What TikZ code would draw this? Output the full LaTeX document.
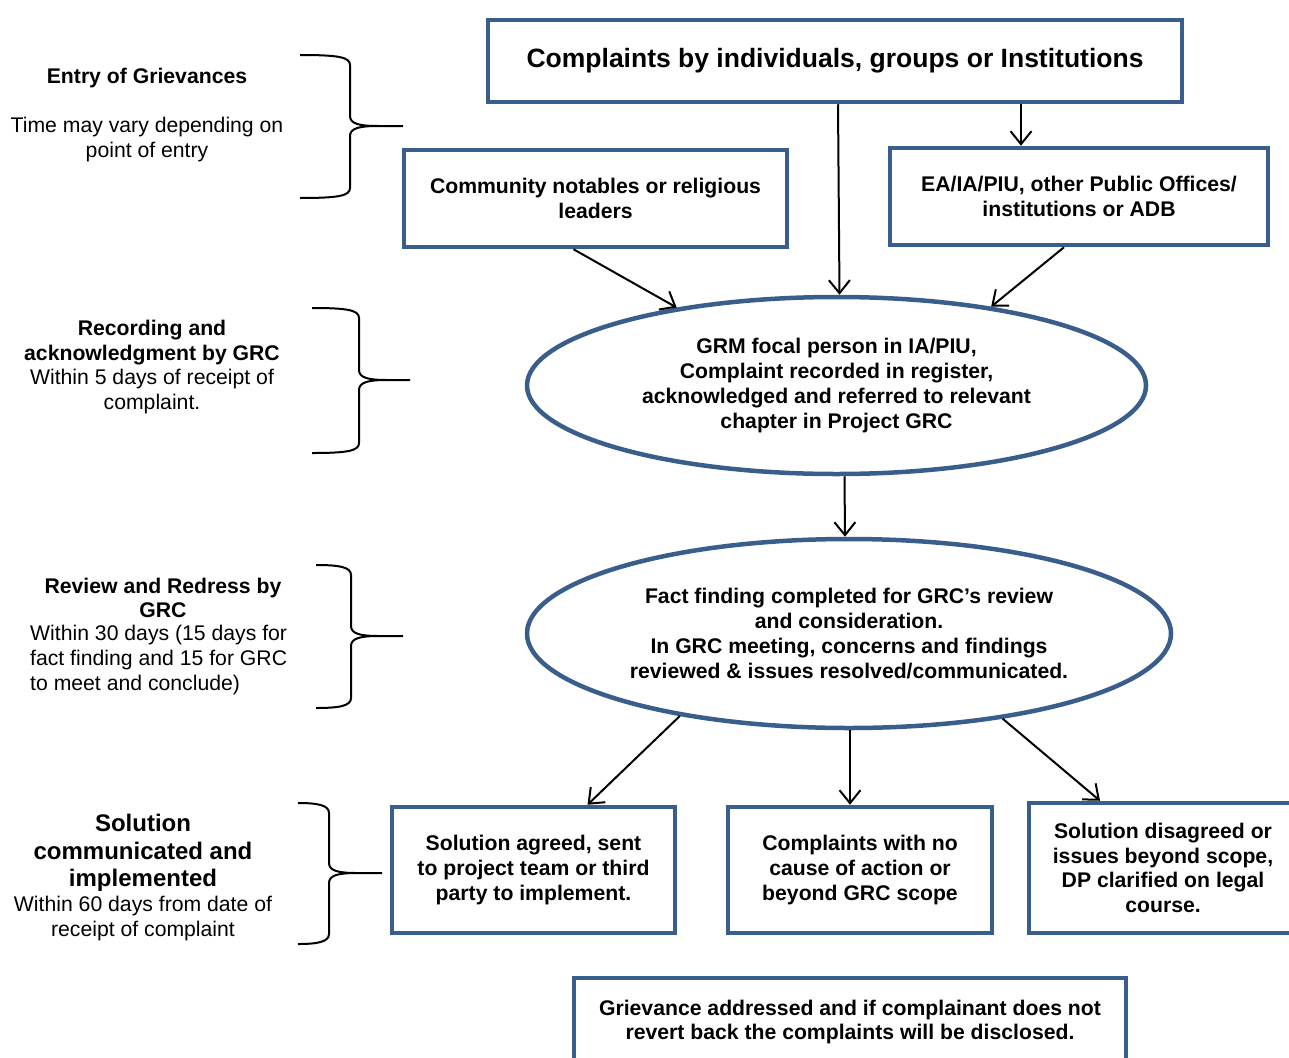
\documentclass[tikz,border=0pt]{standalone}
\usepackage{fontspec}
\setmainfont{Liberation Sans}
\usetikzlibrary{positioning, arrows.meta, shapes.geometric}
\definecolor{grmblue}{HTML}{3A5E8C}
\tikzset{
stepbox/.style={shape=rectangle, draw=grmblue, line width=4.5pt, inner sep=0, align=center, font=\bfseries\fontsize{21.2}{24.7}\selectfont}, stage/.style={stepbox, shape=ellipse}, note/.style={align=center, inner sep=0, font=\fontsize{21.2}{24.7}\selectfont}, flow/.style={-{Straight Barb[length=13pt, width=21pt]}, line width=2pt}, bracket/.style={line width=2pt}}

\begin{document}
\begin{tikzpicture}[x=1pt, y=-1pt]
\useasboundingbox (0,0) rectangle (1289,1057);
\node [stepbox, minimum width=694, minimum height=82, font=\bfseries\fontsize{26.5}{30}\selectfont] (complaints) at (835,61) {Complaints by individuals, groups or Institutions};
\node [stepbox, minimum width=383, minimum height=97] (notables) at (595.5,198.5) {Community notables or religious\\leaders};
\node [stepbox, minimum width=378, minimum height=97] (offices) at (1079,196.5) {EA/IA/PIU, other Public Offices/\\institutions or ADB};
\node [stage, minimum width=619, minimum height=177] (focal) at (836.5,385.5) {GRM focal person in IA/PIU,\\Complaint recorded in register,\\acknowledged and referred to relevant\\chapter in Project GRC};
\node [stage, minimum width=644, minimum height=189] (review) at (849,633.5) {Fact finding completed for GRC’s review\\and consideration.\\In GRC meeting, concerns and findings\\reviewed \& issues resolved/communicated.};
\node [stepbox, minimum width=283, minimum height=126] (agreed) at (533.5,870) {Solution agreed, sent\\to project team or third\\party to implement.};
\node [stepbox, minimum width=264, minimum height=126] (nocause) at (860,870) {Complaints with no\\cause of action or\\beyond GRC scope};
\node [stepbox, minimum width=268, minimum height=130] (disagreed) at (1163,868) {Solution disagreed or\\issues beyond scope,\\DP clarified on legal\\course.};
\node [stepbox, minimum width=552, minimum height=88] (addressed) at (850,1022) {Grievance addressed and if complainant does not\\revert back the complaints will be disclosed.};
% time frames
\node [note] (entry) at (147,115) {\textbf{Entry of Grievances}\\[24.7pt]Time may vary depending on\\point of entry};
\node [note] (recording) at (152,367) {\textbf{Recording and}\\\textbf{acknowledgment by GRC}\\Within 5 days of receipt of\\complaint.};
\node [note, font=\bfseries\fontsize{21.2}{24.7}\selectfont] (redress) at (163,598) {Review and Redress by\\GRC};
\node [note, align=left, anchor=west] (redresstime) at (30,660) {Within 30 days (15 days for\\fact finding and 15 for GRC\\to meet and conclude)};
\node [note, font=\bfseries\fontsize{24}{27.5}\selectfont] (solution) at (143,853) {Solution\\communicated and\\implemented};
\node [note] (solutiontime) at (143,918.5) {Within 60 days from date of\\receipt of complaint};
% braces
\foreach \xl/\xs/\xt/\yt/\ym/\yb in {300/350/403/55/126/198, 312/359/410/308/380/453, 316/351/403/565/636/708, 298/329/382/803/873/944}
  \draw [bracket] (\xl,\yt) .. controls ({\xs-12},\yt) and (\xs,{\yt+2}) .. (\xs,{\yt+10}) -- (\xs,{\ym-10}) .. controls (\xs,{\ym-2}) and ({\xs+10},\ym) .. ({\xs+28},\ym) -- (\xt,\ym) ({\xs+28},\ym) .. controls ({\xs+10},\ym) and (\xs,{\ym+2}) .. (\xs,{\ym+10}) -- (\xs,{\yb-10}) .. controls (\xs,{\yb-2}) and ({\xs-12},\yb) .. (\xl,\yb);
% flow
\draw [flow] ([xshift=3pt]complaints.south) -- ([xshift=3pt]focal.north);
\draw [flow] ([xshift=186pt]complaints.south) -- ([xshift=-58pt]offices.north);
\draw [flow] ([xshift=-22pt]notables.south) -- (focal.154);
\draw [flow] ([xshift=-15pt]offices.south) -- (focal.27);
\draw [flow] ([xshift=8pt]focal.south) -- ([xshift=-4pt]review.north);
\draw [flow] (review.206) -- ([xshift=54pt]agreed.north);
\draw [flow] ([xshift=1pt]review.south) -- ([xshift=-10pt]nocause.north);
\draw [flow] (review.331) -- ([xshift=-63pt]disagreed.north);
\end{tikzpicture}
\end{document}
